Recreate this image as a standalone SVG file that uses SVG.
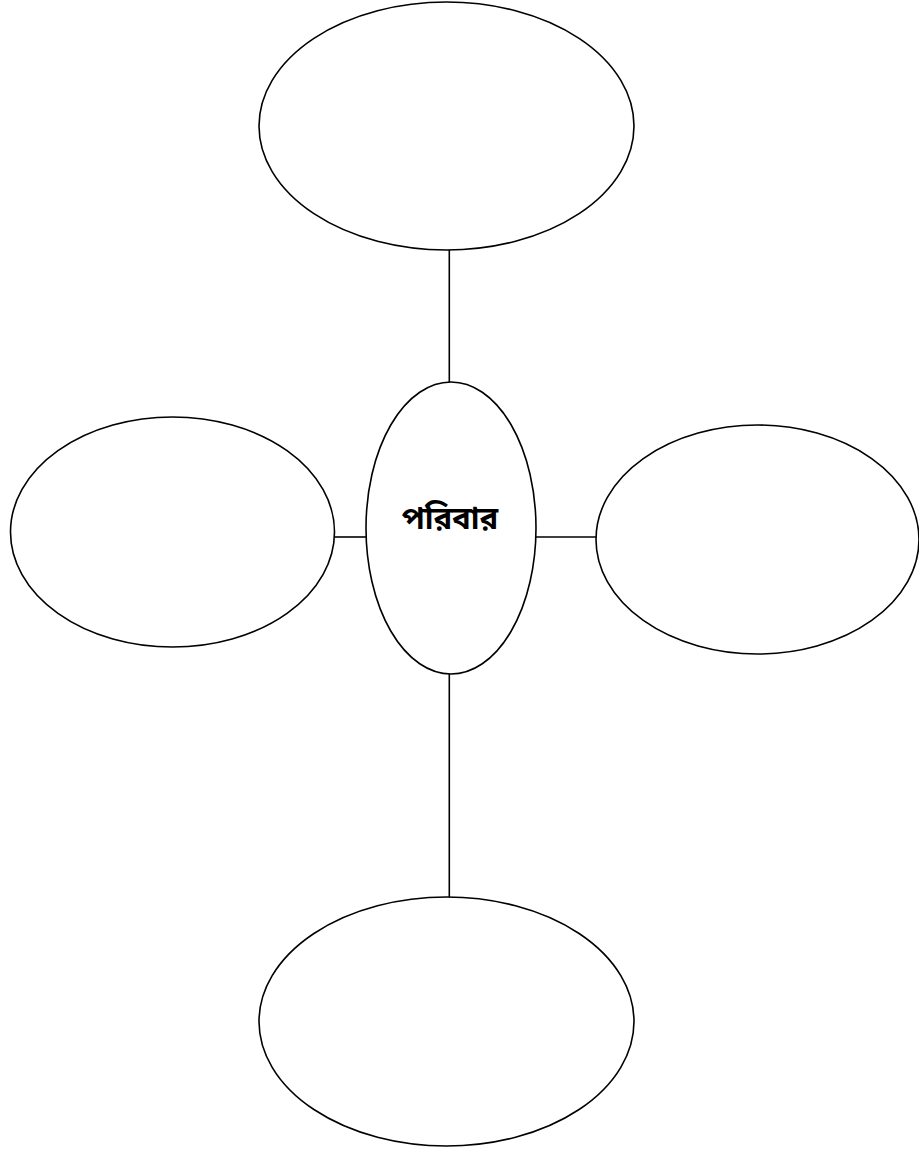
<svg xmlns="http://www.w3.org/2000/svg" width="919" height="1151" viewBox="0 0 919 1151">
<style>
.node{fill:#fff;stroke:#000;stroke-width:1.6}
.conn{stroke:#000;stroke-width:1.6;fill:none}
.lbl{font-family:"Noto Sans Bengali","Noto Serif Bengali","Lohit Bengali","Noto Sans","DejaVu Sans",sans-serif;font-size:31px;font-weight:bold;fill:#000}
</style>
<rect width="919" height="1151" fill="#fff"/>
<g id="connectors">
<line class="conn" x1="449.3" y1="250" x2="449.3" y2="382"/>
<line class="conn" x1="449.3" y1="674" x2="449.3" y2="897"/>
<line class="conn" x1="334.5" y1="537" x2="366" y2="537"/>
<line class="conn" x1="536" y1="537" x2="596" y2="537"/>
</g>
<g id="node-top"><ellipse class="node" cx="446.5" cy="126" rx="187.5" ry="124"/></g>
<g id="node-left"><ellipse class="node" cx="172.5" cy="532" rx="162" ry="115"/></g>
<g id="node-right"><ellipse class="node" cx="757.5" cy="539.5" rx="161.5" ry="114.5"/></g>
<g id="node-bottom"><ellipse class="node" cx="446.5" cy="1021.5" rx="187.5" ry="124.5"/></g>
<g id="node-center"><ellipse class="node" cx="451" cy="528" rx="85" ry="146"/>
<text class="lbl" x="450" y="529" text-anchor="middle">পরিবার</text></g>
</svg>
